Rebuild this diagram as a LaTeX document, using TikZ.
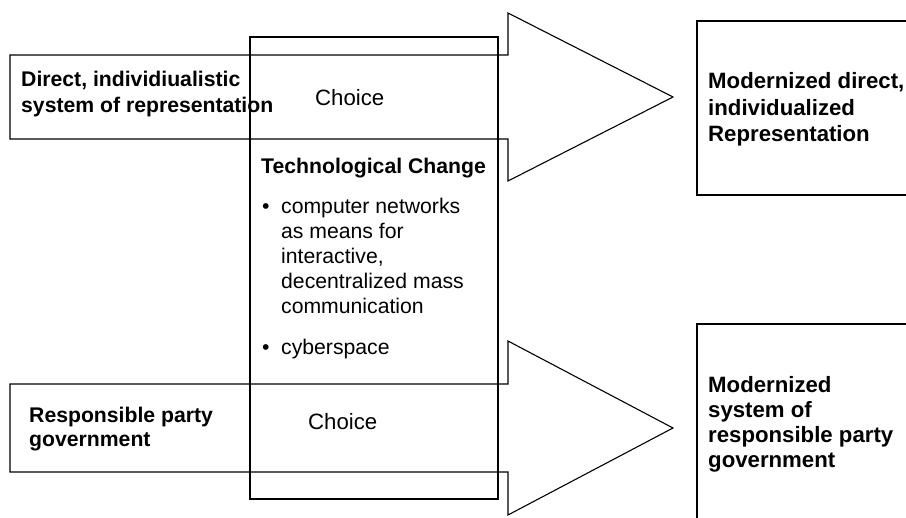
\documentclass[tikz,border=0pt]{standalone}
\usepackage{fontspec}
\setmainfont{Liberation Sans}
\begin{document}
\begin{tikzpicture}[x=1pt,y=-1pt,
  outline/.style={draw=black,line width=1.1pt,line join=miter},
  lbl/.style={anchor=base west,inner sep=0pt,align=left},
  heading/.style={lbl,font=\fontsize{21.2}{26}\selectfont\bfseries},
  outcome/.style={lbl,font=\fontsize{22.2}{26.5}\selectfont\bfseries},
  choicetext/.style={lbl,font=\fontsize{22.2}{26}\selectfont},
  items/.style={lbl,font=\fontsize{21.2}{25}\selectfont}]
\useasboundingbox (0,0) rectangle (906,518);
\clip (0,0) rectangle (906,518);

% upper block arrow
\draw[outline] (10,55) -- (508,55) -- (508,13) -- (673,97) -- (508,181)
  -- (508,139) -- (10,139) -- cycle;
% lower block arrow
\draw[outline] (10,384) -- (508,384) -- (508,341) -- (673,428) -- (508,515)
  -- (508,472) -- (10,472) -- cycle;
% technological change column
\draw[outline] (250,37) rectangle (498,499);
% outcome boxes (running off the right and bottom edges)
\draw[outline] (930,21) -- (697,21) -- (697,195) -- (930,195);
\draw[outline] (930,324) -- (697,324) -- (697,540);

% texts (multi-line nodes are placed by the baseline of their last line)
\node[heading] (direct) at (21,113) {Direct, individiualistic\\system of representation};
\node[choicetext] (choice1) at (315,106) {Choice};
\node[heading] (tech) at (261,174) {Technological Change};
\node[items] (list) at (262,355) {\makebox[19pt][l]{•}computer networks\\
  \hspace*{19pt}as means for\\
  \hspace*{19pt}interactive,\\
  \hspace*{19pt}decentralized mass\\
  \hspace*{19pt}communication\\[16pt]
  \makebox[19pt][l]{•}cyberspace};
\node[heading,font=\fontsize{21.2}{24}\selectfont\bfseries] (party) at (29,447) {Responsible party\\government};
\node[choicetext] (choice2) at (308,430) {Choice};
\node[outcome] (modern1) at (708,142) {Modernized direct,\\individualized\\Representation};
\node[outcome,font=\fontsize{22.2}{25.3}\selectfont\bfseries] (modern2) at (708,468) {Modernized\\system of\\responsible party\\government};
\end{tikzpicture}
\end{document}
